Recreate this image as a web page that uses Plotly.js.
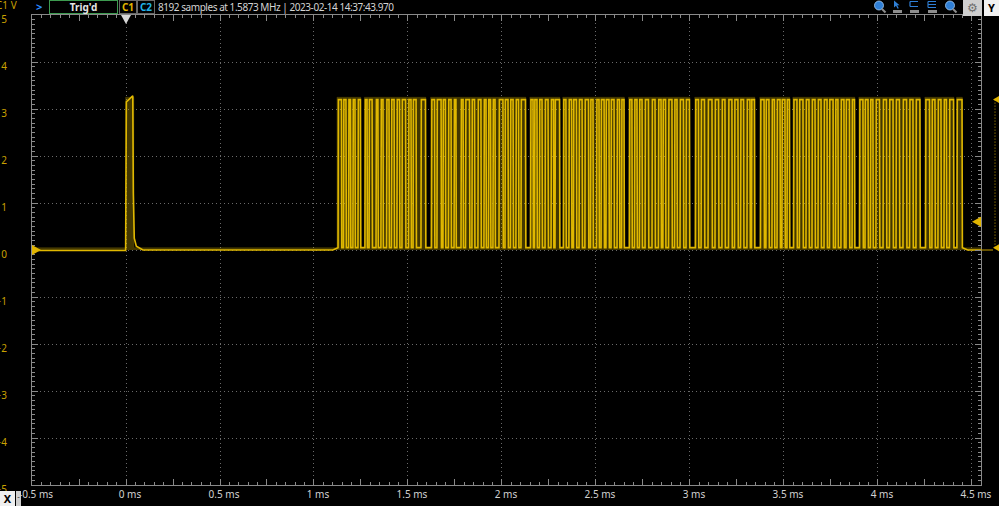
<!DOCTYPE html>
<html>
<head>
<meta charset="utf-8">
<script src="https://cdn.plot.ly/plotly-3.0.1.min.js"></script>
<style>
html,body{margin:0;padding:0;background:#000;width:999px;height:506px;overflow:hidden;font-family:"Noto Sans",sans-serif;}
#chart{position:absolute;left:0;top:0;width:999px;height:506px;}
.hdr{position:absolute;top:0;height:14px;line-height:14px;font-size:10px;white-space:nowrap;box-sizing:border-box;}
.box{text-align:center;font-weight:bold;border:1px solid #686868;line-height:12px;}
</style>
</head>
<body>
<div id="chart"></div>

<!-- top toolbar -->
<div class="hdr" style="left:-4px;top:-1px;line-height:12px;color:#c9a100;">C1 V</div>
<div class="hdr" style="left:36px;color:#2a8cff;font-weight:bold;font-size:11px;">&gt;</div>
<div class="hdr box" style="left:49px;width:69px;border-color:#3d9b50;color:#e6e6e6;">Trig'd</div>
<div class="hdr box" style="left:119px;width:18px;color:#e2b600;">C1</div>
<div class="hdr box" style="left:137px;width:18px;color:#22b2e8;">C2</div>
<div class="hdr" style="left:158px;color:#d4d4d4;letter-spacing:-0.45px;">8192 samples at 1.5873 MHz | 2023-02-14 14:37:43.970</div>

<svg style="position:absolute;left:872px;top:0px" width="90" height="15">
  <circle cx="7" cy="5.5" r="4.5" fill="#2f7fd6" stroke="#a8cdf2" stroke-width="0.8"/>
  <line x1="10" y1="9" x2="13.5" y2="12.5" stroke="#8e8e8e" stroke-width="2"/>
  <path d="M22 0.5 L22 7.5 L24 5.8 L25.6 8.8 L26.8 8.2 L25.2 5.2 L27.6 5.2 Z" fill="#2f7fd6"/>
  <rect x="21" y="10" width="9" height="3" fill="#8e8e8e"/>
  <path d="M38 1.5 H46 M38 1.5 V6.5 M38 6.5 H46" stroke="#2f7fd6" stroke-width="1.2" fill="none"/>
  <rect x="38" y="10" width="9" height="3" fill="#8e8e8e"/>
  <path d="M56 1.5 H64 M56 1.5 V7.5 M56 4.5 H64 M56 7.5 H64" stroke="#2f7fd6" stroke-width="1.1" fill="none"/>
  <rect x="56" y="10" width="9" height="3" fill="#8e8e8e"/>
  <circle cx="78" cy="5.5" r="4.5" fill="#2f7fd6" stroke="#a8cdf2" stroke-width="0.8"/>
  <line x1="81" y1="9" x2="84.5" y2="12.5" stroke="#8e8e8e" stroke-width="2"/>
</svg>
<div class="hdr" style="left:963px;width:19px;height:16px;background:#cfcfcf;color:#6e6e6e;text-align:center;font-size:12px;line-height:15px;">&#9881;</div>
<div class="hdr" style="left:984px;width:15px;height:16px;background:#f2f2f2;color:#000;text-align:center;font-weight:bold;font-size:11px;line-height:16px;">Y</div>

<!-- bottom-left X selector -->
<div style="position:absolute;left:0;top:491px;width:15px;height:15px;background:#efefef;color:#000;font-weight:bold;font-size:11px;line-height:15px;text-align:center;">X</div>
<div style="position:absolute;left:16px;top:491px;width:5px;height:15px;background:#cfcfcf;color:#444;font-size:8px;line-height:11px;text-align:center;">-</div>

<script>
// ---------- data ----------
const xRange = [-0.5, 4.548];           // ms
const yRange = [-5, 5];                 // V
const xTickVals = [-0.5, 0, 0.5, 1, 1.5, 2, 2.5, 3, 3.5, 4, 4.5];
const xTickText = ["-0.5 ms", "0 ms", "0.5 ms", "1 ms", "1.5 ms", "2 ms", "2.5 ms", "3 ms", "3.5 ms", "4 ms", "4.5 ms"];
const yTickVals = [5, 4, 3, 2, 1, 0, -1, -2, -3, -4, -5];
const yTickText = ["5", "4", "3", "2", "1", "0", "\u22121", "\u22122", "\u22123", "\u22124", "\u22125"];

// trigger pulse around 0 ms (time ms, volts)
const trigPulseT = [-0.5, -0.002, 0.002, 0.036, 0.039, 0.044, 0.055, 0.09, 1.10];
const trigPulseV = [-0.01, -0.01, 3.15, 3.28, 1.2, 0.25, 0.08, 0.0, 0.0];

// burst pulses: rising / falling edge times (ms)
const pulseRise = [
  1.128,1.157,1.184,1.207,1.234,
  1.271,1.293,1.330,1.356,1.386,1.412,1.441,1.468,1.503,1.527,1.569,
  1.625,1.654,1.686,1.715,1.745,1.782,1.806,1.840,1.872,1.904,1.928,1.952,1.984,2.016,2.045,2.074,2.101,
  2.152,2.173,2.199,2.229,2.261,2.282,
  2.327,2.356,2.380,2.410,2.441,2.471,2.503,2.527,2.553,2.580,2.612,2.636,
  2.678,2.705,2.731,2.761,2.798,2.832,2.856,2.886,2.918,2.947,2.979,
  3.029,3.059,3.096,3.133,3.170,3.205,3.237,3.269,3.303,3.327,
  3.375,3.404,3.436,3.463,3.489,3.516,
  3.551,3.582,3.617,3.649,3.681,3.713,3.742,3.774,3.803,3.830,3.862,
  3.902,3.931,3.960,3.989,4.027,4.061,4.096,4.133,4.168,4.202,
  4.253,4.287,4.319,4.351,4.380,
  4.420
];
const pulseFall = [
  1.146,1.170,1.194,1.218,1.247,
  1.282,1.309,1.340,1.367,1.399,1.426,1.455,1.487,1.516,1.543,1.593,
  1.641,1.676,1.699,1.729,1.755,1.793,1.827,1.854,1.888,1.915,1.939,1.963,2.005,2.032,2.059,2.088,2.125,
  2.165,2.186,2.213,2.245,2.274,2.306,
  2.340,2.370,2.396,2.426,2.460,2.484,2.516,2.543,2.569,2.596,2.625,2.649,
  2.691,2.718,2.745,2.779,2.814,2.846,2.870,2.904,2.931,2.965,2.997,
  3.045,3.077,3.117,3.152,3.186,3.223,3.255,3.285,3.319,3.343,
  3.394,3.420,3.449,3.479,3.505,3.529,
  3.569,3.601,3.633,3.665,3.697,3.729,3.761,3.787,3.819,3.848,3.875,
  3.920,3.947,3.973,4.008,4.045,4.080,4.114,4.152,4.186,4.223,
  4.274,4.303,4.335,4.364,4.402,
  4.447
];
// persistence (overlaid acquisitions) bands, ms
const bandStart = [-0.002, 1.122, 1.268, 1.620, 2.148, 2.323, 2.673, 3.025, 3.371, 3.547, 3.898, 4.249, 4.418];
const bandEnd   = [ 0.042, 1.249, 1.595, 2.127, 2.308, 2.651, 2.999, 3.345, 3.531, 3.877, 4.225, 4.404, 4.449];

const highLevel = 3.20;    // V
const burstLow  = 0.05;    // V
const restLevel = 0.0;     // V
const bandTop   = 3.25;    // V
const edge = 0.002;        // ms edge duration
const triggerTime = 0;     // ms
const triggerLevel = 0.6;  // V
const channelOffset = 0;   // V

// ---------- build traces ----------
const sigX = trigPulseT.slice(), sigY = trigPulseV.slice();
for (let i = 0; i < pulseRise.length; i++) {
  sigX.push(pulseRise[i], pulseRise[i] + edge, pulseFall[i], pulseFall[i] + edge);
  sigY.push(burstLow, highLevel, highLevel, burstLow);
}
sigX.push(pulseFall[pulseFall.length - 1] + 0.03, xRange[1]);
sigY.push(restLevel, restLevel);

const bandX = [xRange[0]], bandY = [burstLow];
for (let i = 0; i < bandStart.length; i++) {
  bandX.push(bandStart[i], bandStart[i], bandEnd[i], bandEnd[i]);
  bandY.push(burstLow, bandTop, bandTop, burstLow);
}
bandX.push(xRange[1]); bandY.push(burstLow);

const yellow = '#e0b800';
const traces = [
  { x: bandX, y: bandY, mode: 'lines', fill: 'tozeroy', fillcolor: 'rgba(205,170,0,0.32)',
    line: { width: 0.5, color: 'rgba(205,170,0,0.32)' }, hoverinfo: 'skip', showlegend: false },
  { x: sigX, y: sigY, mode: 'lines', line: { color: yellow, width: 1.6 }, hoverinfo: 'skip', showlegend: false },
  { x: [xRange[0]], y: [0], xaxis: 'x2', yaxis: 'y2', mode: 'markers', marker: { opacity: 0 }, hoverinfo: 'skip', showlegend: false },
  { x: [xRange[0]], y: [0], xaxis: 'x3', yaxis: 'y', mode: 'markers', marker: { opacity: 0 }, hoverinfo: 'skip', showlegend: false }
];

const tickGray = '#8a8a8a';
const grid = { showgrid: true, gridcolor: '#6a6a6a', griddash: '1px,3px', gridwidth: 1 };
const layout = {
  width: 999, height: 506,
  margin: { l: 32, r: 18, t: 15, b: 21, pad: 0 },
  paper_bgcolor: '#000', plot_bgcolor: '#000',
  showlegend: false,
  xaxis: Object.assign({
    range: xRange, tickmode: 'array', tickvals: xTickVals, ticktext: xTickText,
    zeroline: false, showline: true, linecolor: tickGray, linewidth: 1,
    ticks: 'inside', ticklen: 6, tickcolor: tickGray,
    minor: { tick0: 0, dtick: 0.05, ticks: 'inside', ticklen: 3, tickcolor: tickGray, showgrid: false },
    tickfont: { family: 'Noto Sans', size: 10, color: '#d2d2d2' },
    ticklabelshift: 4,
    fixedrange: true
  }, grid),
  xaxis2: {
    overlaying: 'x', side: 'top', anchor: 'y', range: xRange,
    tickmode: 'linear', tick0: 0, dtick: 0.25, ticks: 'inside', ticklen: 6, tickcolor: tickGray,
    minor: { tick0: 0, dtick: 0.05, ticks: 'inside', ticklen: 3, tickcolor: tickGray, showgrid: false },
    showticklabels: false, showgrid: false, zeroline: false, showline: true, linecolor: tickGray
  },
  xaxis3: {
    overlaying: 'x', side: 'bottom', anchor: 'y', range: xRange,
    tickmode: 'linear', tick0: 0, dtick: 0.25, ticks: 'inside', ticklen: 6, tickcolor: tickGray,
    showticklabels: false, showgrid: false, zeroline: false, showline: false
  },
  yaxis: Object.assign({
    range: yRange, tickmode: 'array', tickvals: yTickVals, ticktext: yTickText,
    zeroline: false, showline: true, linecolor: tickGray, linewidth: 1,
    ticks: 'inside', ticklen: 6, tickcolor: tickGray,
    minor: { tick0: 0, dtick: 0.1, ticks: 'inside', ticklen: 3, tickcolor: tickGray, showgrid: false },
    tickfont: { family: 'Noto Sans', size: 10, color: '#c9a100' },
    ticklabelstandoff: 22, ticklabelshift: 4,
    fixedrange: true
  }, grid),
  yaxis2: {
    overlaying: 'y', side: 'right', anchor: 'x', range: yRange,
    tickmode: 'linear', tick0: 0, dtick: 1, ticks: 'inside', ticklen: 6, tickcolor: tickGray,
    minor: { tick0: 0, dtick: 0.1, ticks: 'inside', ticklen: 3, tickcolor: tickGray, showgrid: false },
    showticklabels: false, showgrid: false, zeroline: false, showline: true, linecolor: tickGray
  },
  shapes: [
    { type: 'path', xref: 'x', yref: 'y', xsizemode: 'pixel', ysizemode: 'pixel',
      xanchor: xRange[0], yanchor: channelOffset, path: 'M0,-5 L9,0 L0,5 Z',
      fillcolor: '#e0b400', line: { width: 0 } },
    { type: 'path', xref: 'x', yref: 'y', xsizemode: 'pixel', ysizemode: 'pixel',
      xanchor: xRange[1], yanchor: triggerLevel, path: 'M0,-5 L-9,0 L0,5 Z',
      fillcolor: '#e0b400', line: { width: 0 } },
    { type: 'path', xref: 'x', yref: 'y', xsizemode: 'pixel', ysizemode: 'pixel',
      xanchor: triggerTime, yanchor: yRange[1], path: 'M-5,0 L5,0 L0,-9 Z',
      fillcolor: '#d8d8d8', line: { width: 0 } },
    { type: 'line', xref: 'paper', yref: 'y', xsizemode: 'pixel', xanchor: 1, x0: 14, x1: 14,
      y0: highLevel, y1: burstLow, line: { color: '#c9a100', width: 1, dash: '1px,2px' } },
    { type: 'path', xref: 'paper', yref: 'y', xsizemode: 'pixel', ysizemode: 'pixel',
      xanchor: 1, yanchor: highLevel, path: 'M12,0 L18,-3.5 L18,3.5 Z', fillcolor: '#e0b400', line: { width: 0 } },
    { type: 'path', xref: 'paper', yref: 'y', xsizemode: 'pixel', ysizemode: 'pixel',
      xanchor: 1, yanchor: burstLow, path: 'M12,0 L18,-3.5 L18,3.5 Z', fillcolor: '#e0b400', line: { width: 0 } },
    { type: 'line', xref: 'paper', yref: 'y', xsizemode: 'pixel', xanchor: 1, x0: 0, x1: 12,
      y0: restLevel, y1: restLevel, line: { color: '#c9a100', width: 1 } }
  ]
};

Plotly.newPlot('chart', traces, layout, { displayModeBar: false, staticPlot: true });
</script>
</body>
</html>
